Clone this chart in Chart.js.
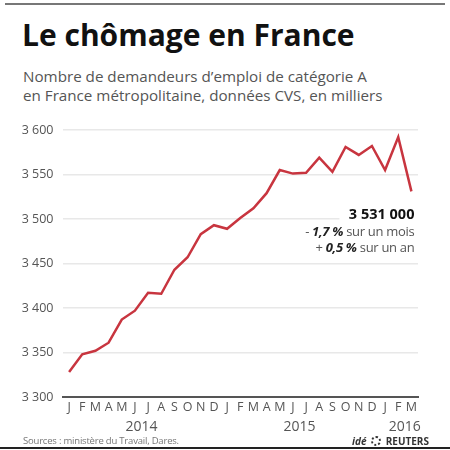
<!DOCTYPE html>
<html>
<head>
<meta charset="utf-8">
<script src="https://cdn.jsdelivr.net/npm/chart.js@4.4.1/dist/chart.umd.min.js"></script>
<style>
  html, body { margin: 0; padding: 0; background: #fff; }
  #page { position: relative; width: 450px; height: 450px; overflow: hidden; font-family: "Open Sans", sans-serif; }
  #topline { position: absolute; left: 5px; top: 3px; width: 440px; height: 2px; background: #777; }
  #title { position: absolute; left: 22px; top: 14px; font-size: 30px; font-weight: 700; color: #111; letter-spacing: 0px; white-space: nowrap; }
  #subtitle { position: absolute; left: 23px; top: 67px; font-size: 15.2px; line-height: 19px; color: #555; letter-spacing: 0px; white-space: nowrap; }
  #chartBox { position: absolute; left: 0; top: 0; width: 450px; height: 450px; }
  #source { position: absolute; left: 23px; top: 434px; font-size: 9.5px; color: #777; letter-spacing: -0.2px; }
  #logo { position: absolute; left: 352px; top: 434px; font-size: 10px; color: #333; font-weight: 700; white-space: nowrap; }
  #logo .dot { display: inline-block; width: 10px; height: 10px; border-radius: 50%; border: 2px dotted #333; box-sizing: border-box; vertical-align: -1px; margin: 0 2px; }
  #bottomline { position: absolute; left: 0; top: 447px; width: 450px; height: 2px; background: #222; }
</style>
</head>
<body>
<div id="page">
  <div id="topline"></div>
  <div id="title">Le chômage en France</div>
  <div id="subtitle">Nombre de demandeurs d’emploi de catégorie A<br>en France métropolitaine, données CVS, en milliers</div>
  <div id="chartBox"><canvas id="chomageChart" width="450" height="450"></canvas></div>
  <div id="source">Sources : ministère du Travail, Dares.</div>
  <div id="logo"><i>idé</i> <span class="dot"></span> REUTERS</div>
  <div id="bottomline"></div>
</div>
<script>
// Mois de janvier 2014 à mars 2016
const mois = ['J', 'F', 'M', 'A', 'M', 'J', 'J', 'A', 'S', 'O', 'N', 'D',
              'J', 'F', 'M', 'A', 'M', 'J', 'J', 'A', 'S', 'O', 'N', 'D',
              'J', 'F', 'M'];
// Demandeurs d'emploi cat. A, en milliers
const demandeurs = [3328, 3348, 3352, 3361, 3387, 3397, 3417, 3416, 3443, 3457, 3483, 3493,
                    3489, 3501, 3512, 3529, 3555, 3551, 3552, 3569, 3553, 3581, 3572, 3582,
                    3555, 3592, 3531];
// Années et indices des mois entre lesquels on les centre
const annees = ['2014', '2015', '2016'];
const anneesPos = [5.5, 17.5, 25.5];
const yTicks = [3300, 3350, 3400, 3450, 3500, 3550, 3600];
const annotTitre = '3 531 000';
const annotMois = ['- ', '1,7 %', ' sur un mois'];
const annotAn = ['+ ', '0,5 %', ' sur un an'];

const gris = '#555';

// Plugin pour les années sous l'axe et l'annotation finale
const extras = {
    id: 'extras',
    afterDatasetsDraw(chart) {
        const ctx = chart.ctx;
        const x = chart.scales.x;
        const y = chart.scales.y;
        ctx.save();
        ctx.fillStyle = gris;
        ctx.font = '14px "Open Sans"';
        ctx.textAlign = 'center';
        ctx.textBaseline = 'middle';
        annees.forEach((a, i) => {
            ctx.fillText(a, x.getPixelForValue(anneesPos[i]), x.bottom + 10);
        });

        // Annotation du dernier point
        const last = demandeurs.length - 1;
        const px = x.getPixelForValue(last) + 3;
        const py = y.getPixelForValue(demandeurs[last]);
        ctx.fillStyle = '#fff';
        ctx.fillRect(px - 75, py + 10, 79, 58);

        ctx.textAlign = 'right';
        ctx.fillStyle = '#111';
        ctx.font = 'bold 14.5px "Open Sans"';
        ctx.fillText(annotTitre, px, py + 23);

        const ligne = (parts, yy) => {
            ctx.font = '13px "Open Sans"';
            ctx.fillStyle = gris;
            let cx = px;
            const w2 = ctx.measureText(parts[2]).width;
            ctx.fillText(parts[2], cx, yy);
            cx -= w2;
            ctx.font = 'italic bold 13px "Open Sans"';
            ctx.fillStyle = '#222';
            ctx.fillText(parts[1], cx, yy);
            cx -= ctx.measureText(parts[1]).width;
            ctx.font = '13px "Open Sans"';
            ctx.fillStyle = gris;
            ctx.fillText(parts[0], cx, yy);
        };
        ctx.letterSpacing = '-0.3px';
        ligne(annotMois, py + 41);
        ligne(annotAn, py + 57);
        ctx.restore();
    }
};

new Chart(document.getElementById('chomageChart'), {
    type: 'line',
    data: {
        labels: mois,
        datasets: [{
            data: demandeurs,
            borderColor: '#c8353f',
            borderWidth: 2.5,
            pointRadius: 0,
            tension: 0,
            fill: false
        }]
    },
    options: {
        responsive: false,
        animation: false,
        layout: { padding: { top: 130, right: 32, bottom: 33, left: 0 } },
        plugins: {
            legend: { display: false },
            tooltip: { enabled: false }
        },
        scales: {
            x: {
                offset: true,
                afterFit: s => { s.height = 20; },
                grid: { display: false, drawTicks: false },
                border: { display: true, color: '#555', width: 2 },
                ticks: {
                    color: gris,
                    font: { family: 'Open Sans', size: 12.5 },
                    padding: 3,
                    autoSkip: false,
                    maxRotation: 0
                }
            },
            y: {
                min: 3300,
                max: 3600,
                afterFit: s => { s.width = 62.5; },
                afterBuildTicks: s => { s.ticks = yTicks.map(v => ({ value: v })); },
                grid: { color: '#e8e8e8', lineWidth: 1.5, drawTicks: false },
                border: { display: false },
                ticks: {
                    color: gris,
                    font: { family: 'Open Sans', size: 12.5 },
                    padding: 9,
                    callback: v => String(v).replace(/(\d)(\d{3})$/, '$1 $2')
                }
            }
        }
    },
    plugins: [extras]
});
</script>
</body>
</html>
